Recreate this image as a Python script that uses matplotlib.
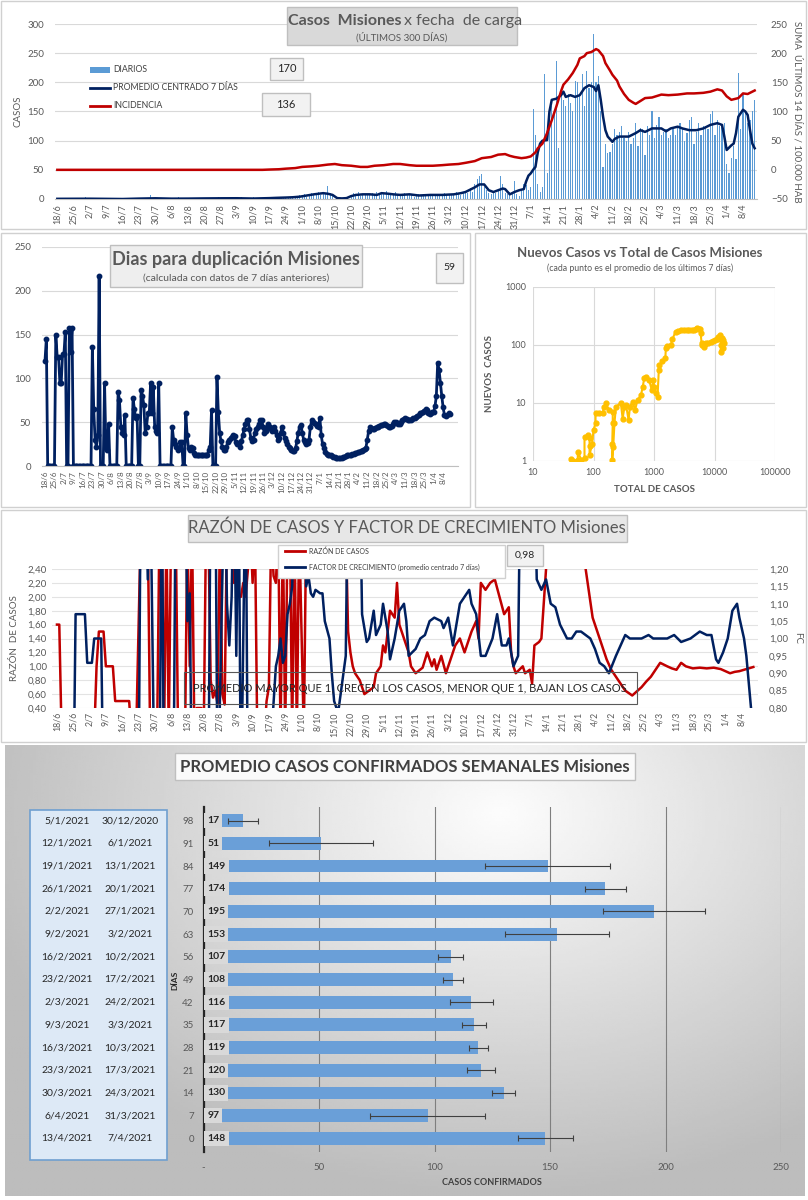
import numpy as np
import pandas as pd
import matplotlib
matplotlib.use('Agg')
import matplotlib.pyplot as plt
from matplotlib.patches import Rectangle
from matplotlib.lines import Line2D
import matplotlib.transforms as mtransforms

plt.rcParams['font.family'] = ['Lato', 'DejaVu Sans']

# ---------------- DATA ----------------
start_date = '2020-06-18'
n_days = 300

# daily cases (18/6/2020 .. 13/4/2021)
diarios = [
    1,0,0,0,0,0,0,  2,1,0,1,0,3,0,  1,0,0,1,0,0,0,  0,0,0,0,0,0,0,
    0,0,0,0,0,0,0,  2,1,0,1,0,6,0,  1,0,2,0,0,0,0,  1,0,0,3,0,0,0,
    2,1,0,1,0,1,0,  0,0,2,1,0,1,3,  0,1,2,1,0,2,1,  2,1,3,0,1,2,0,
    3,0,0,0,0,1,2,  0,2,1,3,0,2,1,  4,1,2,5,3,2,6,  5,8,4,6,10,7,9,
    12,6,9,8,22,10,5,  0,0,1,0,2,1,0,  6,10,8,12,5,9,7,  8,6,10,5,12,9,8,
    11,14,7,9,6,12,8,  7,5,10,6,8,9,4,  6,8,5,9,7,6,8,  6,7,9,5,8,10,7,
    9,6,8,12,10,7,11,  14,10,18,12,25,35,40,  42,20,15,10,8,12,10,  15,40,25,10,8,12,
    12,30,8,5,15,25,24,  15,20,155,110,25,12,20,  214,45,150,160,150,237,87,
    190,170,160,180,165,150,203,  200,180,215,160,220,190,200,  282,200,210,150,55,95,79,
    80,95,120,110,115,125,104,  100,115,95,105,130,90,121,  120,75,125,110,150,105,127,
    140,110,115,120,105,109,120,  110,125,130,120,100,113,135,  140,95,115,130,110,125,125,
    120,145,150,110,135,125,125,  130,60,45,70,90,68,216,  120,180,150,130,136,150,170,
]

# centred 7-day average (day index, value)
prom_d = [0,14,28,35,42,49,56,63,70,77,84,91,94,98,101,104,107,110,112,114,116,118,120,122,124,
          126,128,131,134,137,139,142,144,147,151,155,160,165,170,173,175,177,179,181,183,185,187,
          189,191,192,194,196,198,200,201,202,203,204,205,206,207,208,210,211,212,214,216,217,218,
          220,222,224,226,228,230,231,232,233,234,235,236,238,239,241,245,248,250,252,255,259,261,
          263,266,268,271,274,277,280,283,285,286,287,288,289,290,291,292,294,295,296,297,298,299]
prom_v = [0.3,0.5,0,0.7,1.2,0.6,0.7,1,1.2,1.3,0.8,1.5,2,2.5,3,4,6,8,9,10,9,7,1.5,1,1.5,
          5,7,8,8,7,10,9,8,7,8,6,7,7,8,10,12,16,20,25,25,15,12,
          15,18,17,8,12,15,17,30,40,44,50,55,80,95,100,101,150,170,172,178,184,175,
          178,175,178,190,195,192,185,195,170,141,118,107,98,103,107,107,113,118,115,121,121,116,
          121,124,121,118,118,121,127,130,127,107,84,88,92,95,113,141,153,150,144,118,95,87]

# incidence, sum of last 14 days / 100.000 hab (day index, value)
inc_d = [0,88,91,95,98,102,105,109,112,116,119,122,126,130,133,136,140,144,147,151,154,158,161,
         165,168,172,175,179,182,186,189,192,194,196,199,201,203,205,206,208,210,212,214,216,217,
         219,221,223,224,226,227,229,231,232,234,235,237,238,240,241,243,245,247,248,250,252,255,
         259,262,266,270,273,277,280,283,285,287,289,291,292,294,296,298,299]
inc_v = [0,0,0.5,1,2,3,5,6,7,9,10,8,7,5,5,7,8,10,10,8,7,7,7,
         8,9,10,12,15,20,22,26,27,24,22,20,21,23,30,37,45,63,85,109,135,146,
         155,166,180,191,195,200,202,207,205,195,183,170,163,153,143,130,120,115,113,118,123,124,
         129,128,129,131,131,132,134,138,136,126,120,122,123,131,130,134,136]

# days for doubling (daily)
duplicacion = [
    120,145,0,0,0,0,0,  0,150,125,125,95,95,128,  128,153,0,0,158,130,158,  0,0,0,0,0,0,0,
    0,0,0,0,0,0,0,  136,65,30,22,35,217,0,  0,0,95,20,18,48,0,  0,0,0,0,0,85,75,
    45,38,35,58,0,0,0,  0,0,78,65,55,57,0,  0,87,80,70,38,45,60,  60,95,60,90,45,40,38,
    95,0,0,0,0,0,0,  0,0,0,44,30,25,22,  18,20,27,27,0,0,60,  35,20,18,22,20,15,13,
    12,13,12,13,12,13,13,  13,13,18,22,64,0,0,  0,102,62,38,28,22,18,  18,22,27,30,32,33,35,
    34,27,25,25,22,28,35,  42,48,52,53,42,32,28,  30,38,42,45,48,52,53,  45,38,40,44,48,45,42,
    40,44,40,35,30,32,38,  44,38,32,28,25,22,20,  18,17,17,20,28,38,44,  47,38,30,27,25,26,30,
    45,52,50,49,48,46,45,  55,35,25,20,16,14,13,  12,12,11,10,10,9,9,  9,9,9,10,10,11,12,
    12,13,13,14,14,15,15,  16,16,17,17,18,19,21,  30,40,45,43,42,42,43,  44,45,46,47,47,48,48,
    47,46,45,45,46,48,50,  50,49,48,48,50,52,54,  55,54,53,52,53,54,55,  55,56,57,58,60,61,62,
    63,65,64,60,59,60,62,  62,68,80,118,110,95,80,  67,58,57,58,60,59,
]

# new cases (7-day mean) vs total cases
total_casos = [43,46,55,55,63,71,71,81,86,86,86,95,100,108,108,125,142,150,160,180,
               208,208,204,204,212,222,235,283,303,325,345,380,400,445,485,535,610,650,690,735,
               830,920,970,1010,1080,1145,1200,1230,1380,1540,1570,1670,1900,2010,2270,2500,2770,
               3150,3500,3800,4200,4600,5000,5200,5500,5700,5900,6100,6200,6700,7000,7300,7900,
               8800,9500,10000,10800,11600,12000,12500,13000,12600,13200,13700,14000,14300]
nuevos_casos = [1.1,1.0,1.04,1.45,1.04,1.14,2.6,2.8,2.5,1.8,1.27,2.0,3.4,4.5,6.6,6.6,6.8,8.6,10,7.6,
                7.1,4.5,2.0,1.04,1.77,4.5,8.6,10,5.4,8.6,9.2,5.1,8.6,10.6,7.6,11.2,13.7,19,26.6,28.5,
                25,16.7,25,19,14.7,12.8,37,45,52,59,88,96,100,125,170,176,181,
                185,180,181,178,178,190,194,192,187,160,110,100,94,103,107,110,
                114,117,121,125,139,125,148,100,77,130,88,120,107]

# ratio of cases (day index, value)
razon_d = [0,1,2,16,17,18,20,21,24,25,31,32,34,36,39,40,43,44,45,46,47,48,49,51,52,55,56,57,58,59,
           60,62,63,64,65,66,67,68,69,70,71,72,73,75,76,77,78,79,80,81,82,83,84,85,86,89,90,91,92,93,
           94,95,96,97,98,99,100,101,102,103,104,106,107,124,125,126,127,128,130,132,134,136,137,139,
           140,141,142,143,145,146,147,149,151,152,154,157,159,161,162,163,165,167,169,171,173,175,
           178,180,181,182,184,186,188,190,192,194,195,196,197,200,201,203,204,205,207,208,210,211,
           226,227,230,232,234,236,238,240,241,244,247,251,253,255,257,259,262,264,266,268,270,273,
           276,279,282,285,287,289,291,293,295,297,299]
razon_v = [1.6,1.6,0.0,0.0,1.0,1.5,1.5,1.0,1.0,0.5,0.5,0.0,0.0,3,3,0.0,0.0,3,3,0.0,3,0.0,3,3,0.0,0.0,3,1.0,3,0.0,
           0.4,0.4,0.0,3,3,0.8,0.55,0.65,0.45,3,0.6,0.45,3,3,2.2,2.35,2.0,2.0,2.2,2.0,2.4,3,2.2,3,0.0,0.0,0.5,0.7,3,2.3,
           2.2,3,0.0,3,0.0,3,3,0.0,3,0.0,3,0.0,3,3,1.5,1.2,1.0,0.9,0.8,0.6,0.65,0.7,0.9,1.0,
           1.3,1.2,1.5,1.8,1.7,2.2,1.6,1.4,1.2,1.0,0.9,0.98,1.2,1.0,1.1,0.95,1.15,0.9,1.1,1.3,1.4,1.2,
           1.5,1.65,1.4,2.2,2.1,2.2,2.25,2.0,1.75,1.85,1.2,1.0,0.9,1.0,0.9,0.95,0.75,1.3,1.35,1.4,2.4,3,
           3,2.4,1.7,1.5,1.3,1.1,0.95,0.85,0.8,0.65,0.58,0.7,0.78,0.85,0.95,1.05,1.0,0.97,0.95,1.05,1.0,0.97,
           0.98,0.97,0.98,0.96,0.93,0.9,0.92,0.93,0.95,0.97,0.99]

# growth factor, centred 7 days (day index, value)
fc_d = [0,7,8,12,13,15,16,19,20,35,36,38,39,40,42,44,45,46,50,51,55,56,57,58,65,66,68,69,72,73,
        74,75,76,77,78,79,81,82,90,94,95,96,97,98,99,100,101,102,104,105,106,107,108,109,110,111,113,114,115,117,
        118,119,120,121,123,124,125,130,131,133,134,136,137,139,140,142,143,145,147,149,150,151,154,156,158,160,
        162,165,166,168,170,173,175,177,178,180,182,184,187,189,191,193,194,196,198,199,205,206,208,210,212,214,
        216,219,221,223,225,227,229,231,233,235,237,240,242,244,246,248,251,254,256,259,262,265,268,272,276,279,
        281,283,284,286,288,290,292,293,295,296,298,299]
fc_v = [0.5,0.5,1.07,1.07,0.93,0.93,1.0,1.0,0.5,0.5,1.5,1.5,1.17,1.5,0.5,0.5,1.5,0.5,0.5,1.5,1.5,1.05,1.13,0.5,0.5,1.5,1.5,0.5,1.5,1.1,
        0.98,1.12,1.5,0.95,1.5,0.5,1.5,0.5,0.5,0.92,0.95,1.0,0.93,0.95,1.07,1.1,1.15,1.5,1.5,1.18,1.5,1.15,1.18,1.13,1.12,1.14,1.13,1.13,1.05,1.0,
        0.9,0.82,0.8,0.8,0.9,0.95,1.5,1.5,1.07,0.99,1.0,1.08,1.01,1.04,1.10,1.02,0.94,1.0,1.08,1.1,1.05,0.95,0.97,1.0,1.01,1.05,
        1.06,1.05,1.03,1.06,0.98,1.1,1.12,1.14,1.10,1.07,0.95,0.95,1.0,1.07,0.98,0.98,1.0,0.92,0.95,1.5,1.5,1.17,1.14,1.17,1.10,1.09,
        1.04,1.0,1.0,1.02,1.02,1.01,1.0,0.97,0.93,0.92,0.90,0.95,0.98,1.01,1.0,1.0,1.0,1.01,1.0,1.0,1.0,1.01,0.99,1.0,1.02,1.01,
        1.01,0.94,0.93,0.96,1.0,1.08,1.10,1.06,1.0,0.95,0.8,0.78]

# weekly averages
semana_fin = ['5/1/2021','12/1/2021','19/1/2021','26/1/2021','2/2/2021','9/2/2021','16/2/2021',
              '23/2/2021','2/3/2021','9/3/2021','16/3/2021','23/3/2021','30/3/2021','6/4/2021','13/4/2021']
semana_ini = ['30/12/2020','6/1/2021','13/1/2021','20/1/2021','27/1/2021','3/2/2021','10/2/2021',
              '17/2/2021','24/2/2021','3/3/2021','10/3/2021','17/3/2021','24/3/2021','31/3/2021','7/4/2021']
dias_atras = [98,91,84,77,70,63,56,49,42,35,28,21,14,7,0]
promedio_semanal = [17,51,149,174,195,153,107,108,116,117,119,120,130,97,148]
error_semanal = [6.5,22.5,27,9,22,22.5,5.4,4.2,9.4,5.2,4,6,5,25,12]

ultimo_diario = '170'
ultima_incidencia = '136'
ultima_duplicacion = '59'
ultimo_fc = '0,98'

# ---------------- FIGURE ----------------
W, H = 808, 1200
fig = plt.figure(figsize=(8.08, 12), dpi=100)
fig.patch.set_facecolor('white')

def axpx(x0, y0, x1, y1, **kw):
    return fig.add_axes([x0 / W, 1 - y1 / H, (x1 - x0) / W, (y1 - y0) / H], **kw)

NAVY = '#002060'
RED = '#C00000'
BLUE = '#5B9BD5'
TXT = '#595959'

bg = axpx(0, 0, W, H, zorder=-10)
bg.set_xlim(0, W); bg.set_ylim(H, 0); bg.axis('off')

for (x0, y0, x1, y1) in [(1, 1, 806, 229), (1, 233, 470, 507), (475, 233, 806, 507), (1, 510, 806, 742)]:
    bg.add_patch(Rectangle((x0, y0), x1 - x0, y1 - y0, fc='white', ec='#d0d0d0', lw=1))

gy, gx = np.mgrid[0:1:200j, 0:1:300j]
dist = np.sqrt(((gx - 0.62) / 0.75) ** 2 + ((gy - 0.15) / 0.95) ** 2)
shade = np.clip(0.99 - 0.28 * dist, 0.74, 0.99)
bg.imshow(shade, extent=(5, 805, 1196, 745), cmap='gray', vmin=0, vmax=1, aspect='auto',
          interpolation='bilinear', zorder=1)
bg.add_patch(Rectangle((30, 810), 137, 350, fc='#dde9f6', ec='#6f9fd0', lw=1.2, zorder=2))

fg = axpx(0, 0, W, H, zorder=20)
fg.set_xlim(0, W); fg.set_ylim(H, 0); fg.axis('off'); fg.patch.set_alpha(0)

days = np.arange(n_days)
dates = pd.date_range(start_date, periods=n_days)
tick_days = np.arange(0, n_days, 7)
tick_labels = [f"{d.day}/{d.month}" for d in dates[tick_days]]

def clean(ax, keep_bottom=True):
    for s in ['top', 'right', 'left']:
        ax.spines[s].set_visible(False)
    if keep_bottom:
        ax.spines['bottom'].set_color('#bfbfbf')
    else:
        ax.spines['bottom'].set_visible(False)
    ax.tick_params(length=0, labelcolor=TXT)

# ---------- Panel 1 ----------
ax1 = axpx(55, 24, 757, 199)
ax1.set_facecolor('none')
ax1.bar(days, diarios, width=0.5, color=BLUE, zorder=2)
ax1.plot(prom_d, prom_v, color=NAVY, lw=1.8, zorder=3)
ax1.set_xlim(-1, 300); ax1.set_ylim(0, 300)
ax1.set_yticks(range(0, 301, 50))
ax1.grid(axis='y', color='#d9d9d9', lw=0.8); ax1.set_axisbelow(True)
clean(ax1)
ax1.set_xticks(tick_days)
ax1.set_xticklabels(tick_labels, rotation=90, fontsize=6.5)
ax1.tick_params(axis='y', labelsize=7, pad=8)
ax1.set_ylabel('CASOS', fontsize=7, color=TXT, labelpad=3)
ax1r = ax1.twinx()
ax1r.plot(inc_d, inc_v, color=RED, lw=1.8)
ax1r.set_ylim(-50, 250); ax1r.set_yticks(range(-50, 251, 50))
for s in ax1r.spines.values():
    s.set_visible(False)
ax1r.tick_params(length=0, labelsize=7, labelcolor=TXT, pad=10)
ax1r.set_ylabel('SUMA  ÚLTIMOS 14 DÍAS / 100.000 HAB', rotation=270, fontsize=7, color=TXT, labelpad=10)

fg.add_patch(Rectangle((287, 7), 230, 38, fc='#d9d9d9', ec='#bfbfbf', lw=1))
fg.text(401, 21, 'Casos  Misiones', ha='right', va='center', fontsize=11.5, weight='bold', color=TXT)
fg.text(404, 21, 'x fecha  de carga', ha='left', va='center', fontsize=11.5, color=TXT)
fg.text(402, 37, '(ÚLTIMOS 300 DÍAS)', ha='center', va='center', fontsize=7, color=TXT)
fg.add_patch(Rectangle((90, 67), 20, 6, fc=BLUE, ec='none'))
fg.add_line(Line2D([90, 110], [88, 88], color=NAVY, lw=2))
fg.add_line(Line2D([90, 110], [106, 106], color=RED, lw=2))
for yy, t in [(70, 'DIARIOS'), (88, 'PROMEDIO CENTRADO 7 DÍAS'), (106, 'INCIDENCIA')]:
    fg.text(113, yy, t, ha='left', va='center', fontsize=6.3, color='#404040')
fg.add_patch(Rectangle((270, 58), 33, 22, fc='#f2f2f2', ec='#bfbfbf', lw=1))
fg.text(286.5, 69, ultimo_diario, ha='center', va='center', fontsize=8, color='#262626')
fg.add_patch(Rectangle((262, 93), 48, 23, fc='#f2f2f2', ec='#bfbfbf', lw=1))
fg.text(286, 104.5, ultima_incidencia, ha='center', va='center', fontsize=8, color='#262626')

# ---------- Panel 2 ----------
ax2 = axpx(42, 247, 458, 466)
ax2.set_facecolor('none')
ax2.plot(days, duplicacion, color=NAVY, lw=2, marker='o', ms=3.2)
ax2.set_xlim(-2.2, 305); ax2.set_ylim(0, 250)
ax2.set_yticks(range(0, 251, 50))
ax2.grid(axis='y', color='#d9d9d9', lw=0.8); ax2.set_axisbelow(True)
clean(ax2)
ax2.set_xticks(tick_days)
ax2.set_xticklabels(tick_labels, rotation=90, fontsize=5.8)
ax2.tick_params(axis='y', labelsize=7, pad=8)
fg.add_patch(Rectangle((110, 245), 252, 42, fc='#eeeeee', ec='#bfbfbf', lw=1))
fg.text(236, 259, 'Dias para duplicación Misiones', ha='center', va='center', fontsize=13, weight='bold', color=TXT)
fg.text(236, 278, '(calculada con datos de 7 días anteriores)', ha='center', va='center', fontsize=7.5, color=TXT)
fg.add_patch(Rectangle((436, 253), 27, 30, fc='#f2f2f2', ec='#bfbfbf', lw=1))
fg.text(449.5, 268, ultima_duplicacion, ha='center', va='center', fontsize=7.5, color='#262626')

# ---------- Panel 3 ----------
ax3 = axpx(533, 287, 775, 461)
ax3.set_facecolor('none')
ax3.plot(total_casos, nuevos_casos, color='#FFC000', lw=1.5, marker='o', ms=3.5)
ax3.set_xscale('log'); ax3.set_yscale('log')
ax3.set_xlim(10, 1e5); ax3.set_ylim(1, 1000)
ax3.set_xticks([10, 100, 1000, 10000, 100000])
ax3.set_xticklabels(['10', '100', '1000', '10000', '100000'])
ax3.set_yticks([1, 10, 100, 1000])
ax3.set_yticklabels(['1', '10', '100', '1000'])
ax3.minorticks_off()
ax3.grid(True, color='#d9d9d9', lw=0.8); ax3.set_axisbelow(True)
for s in ax3.spines.values():
    s.set_visible(False)
ax3.tick_params(length=0, labelsize=6.5, labelcolor=TXT, pad=5)
ax3.set_xlabel('TOTAL DE CASOS', fontsize=7, weight='bold', color=TXT, labelpad=6)
ax3.set_ylabel('NUEVOS  CASOS', fontsize=7, weight='bold', color=TXT, labelpad=8)
fg.text(640, 253, 'Nuevos Casos vs Total de Casos Misiones', ha='center', va='center', fontsize=9.5,
        weight='bold', color=TXT)
fg.text(640, 268, '(cada punto es el promedio de los últimos 7 días)', ha='center', va='center',
        fontsize=6.3, color=TXT)

# ---------- Panel 4 ----------
ax4 = axpx(52.3, 569, 758, 708)
ax4.set_facecolor('none')
ax4.plot(razon_d, razon_v, color=RED, lw=1.8)
ax4.set_xlim(-2, 301); ax4.set_ylim(0.4, 2.4)
yt = np.arange(0.4, 2.41, 0.2)
ax4.set_yticks(yt)
ax4.set_yticklabels([f"{v:.2f}".replace('.', ',') for v in yt])
ax4.grid(axis='y', color='#e3e3e3', lw=0.8); ax4.set_axisbelow(True)
clean(ax4, keep_bottom=False)
ax4.set_xticks(tick_days)
ax4.set_xticklabels(tick_labels, rotation=90, fontsize=6.3)
ax4.tick_params(axis='y', labelsize=7, pad=4)
ax4.tick_params(axis='x', pad=3)
ax4.set_ylabel('RAZÓN  DE CASOS', fontsize=7, color=TXT, labelpad=6)
ax4r = ax4.twinx()
ax4r.plot(fc_d, fc_v, color=NAVY, lw=1.8)
ax4r.set_ylim(0.8, 1.2)
yt2 = np.arange(0.8, 1.201, 0.05)
ax4r.set_yticks(yt2)
ax4r.set_yticklabels([f"{v:.2f}".replace('.', ',') for v in yt2])
for s in ax4r.spines.values():
    s.set_visible(False)
ax4r.tick_params(length=0, labelsize=7, labelcolor=TXT, pad=8)
ax4r.set_ylabel('FC', rotation=270, fontsize=7, color=TXT, labelpad=10)

fg.add_patch(Rectangle((188, 515), 439, 27, fc='#e7e7e7', ec='#bfbfbf', lw=1))
fg.text(407, 528, 'RAZÓN DE CASOS Y FACTOR DE CRECIMIENTO Misiones', ha='center', va='center',
        fontsize=12, color=TXT)
fg.add_patch(Rectangle((278, 545), 227, 33, fc='white', ec='#d0d0d0', lw=1))
fg.add_line(Line2D([285, 305], [551, 551], color=RED, lw=2))
fg.add_line(Line2D([285, 305], [567, 567], color=NAVY, lw=2))
fg.text(309, 551, 'RAZÓN DE CASOS', ha='left', va='center', fontsize=5, color='#404040')
fg.text(309, 567, 'FACTOR DE CRECIMIENTO (promedio centrado 7 días)', ha='left', va='center', fontsize=5,
        color='#404040')
fg.add_patch(Rectangle((507, 545), 36, 21, fc='#f2f2f2', ec='#bfbfbf', lw=1))
fg.text(525, 555.5, ultimo_fc, ha='center', va='center', fontsize=7.5, color='#262626')
fg.add_patch(Rectangle((184, 672), 453, 32, fc='none', ec='#595959', lw=0.8))
fg.text(410, 689, 'PROMEDIO MAYOR QUE 1, CRECEN LOS CASOS, MENOR QUE 1, BAJAN LOS CASOS', ha='center',
        va='center', fontsize=8, color='#262626')

# ---------- Panel 5 ----------
rows = np.arange(len(promedio_semanal))
ax5 = axpx(203.5, 807, 781, 1152)
ax5.set_facecolor('none')
ax5.barh(rows, promedio_semanal, height=0.57, color='#6a9fd8', xerr=error_semanal,
         error_kw=dict(ecolor='#404040', elinewidth=0.8, capsize=2.5, capthick=0.8), zorder=3)
ax5.set_xlim(0, 250); ax5.set_ylim(14.6, -0.6)
ax5.set_xticks([0, 50, 100, 150, 200, 250])
ax5.set_xticklabels(['-', '50', '100', '150', '200', '250'])
ax5.grid(axis='x', color='#7f7f7f', lw=0.8); ax5.set_axisbelow(True)
for s in ['top', 'right', 'bottom']:
    ax5.spines[s].set_visible(False)
ax5.spines['left'].set_color('#262626'); ax5.spines['left'].set_linewidth(1.6)
ax5.set_yticks(rows)
ax5.set_yticklabels([str(d) for d in dias_atras])
ax5.tick_params(length=0, labelsize=7, labelcolor=TXT)
ax5.tick_params(axis='y', pad=7)
ax5.tick_params(axis='x', pad=8)
ax5.set_xlabel('CASOS CONFIRMADOS', fontsize=6.5, weight='bold', color='#404040', labelpad=4)
for r, v in zip(rows, promedio_semanal):
    ax5.text(1.6, r, str(v), ha='left', va='center', fontsize=7.5, weight='bold', color='#262626',
             bbox=dict(boxstyle='square,pad=0.3', fc='#d9d9d9', ec='none'), zorder=5)
fg.text(175, 980, 'DÍAS', rotation=90, ha='center', va='center', fontsize=6, weight='bold', color='#262626')

tr = mtransforms.blended_transform_factory(fg.transData, ax5.transData)
for r, a, b in zip(rows, semana_fin, semana_ini):
    fg.text(67, r, a, transform=tr, ha='center', va='center', fontsize=7.5, color='#262626')
    fg.text(130, r, b, transform=tr, ha='center', va='center', fontsize=7.5, color='#262626')

fg.add_patch(Rectangle((175, 753), 460, 27, fc='#fafafa', ec='#bfbfbf', lw=1))
fg.text(405, 767, 'PROMEDIO CASOS CONFIRMADOS SEMANALES Misiones', ha='center', va='center',
        fontsize=12, weight='bold', color='#404040')

fig.savefig('out.png', dpi=100)
